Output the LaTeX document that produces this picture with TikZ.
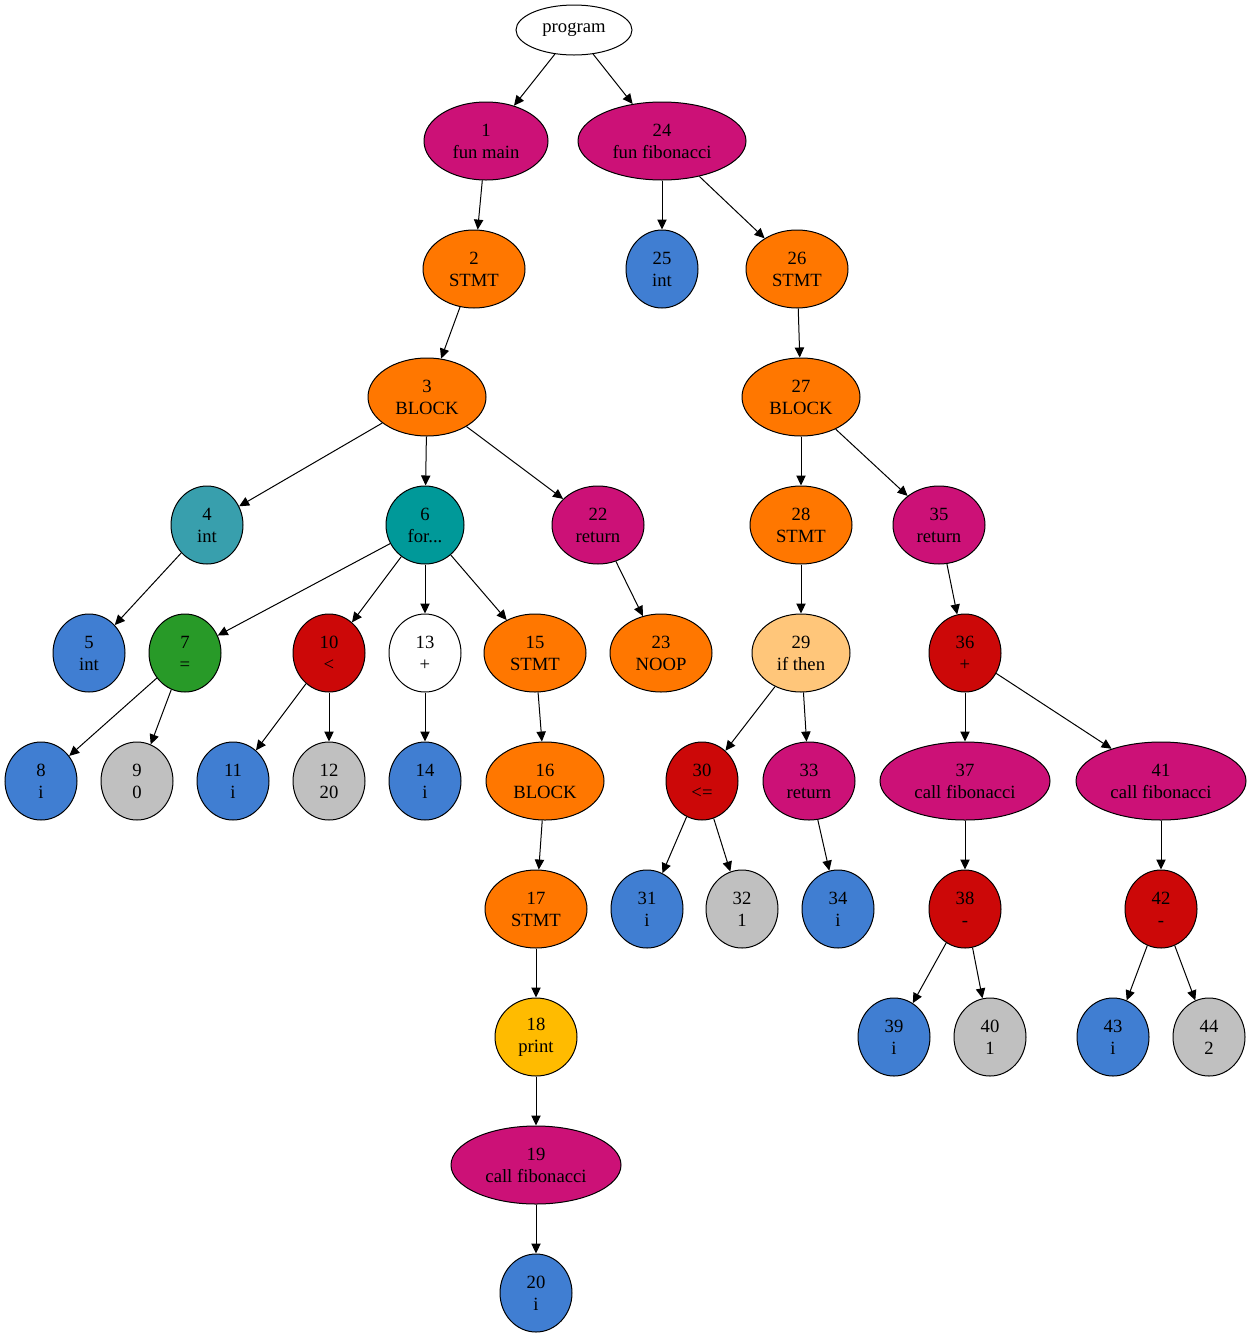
\documentclass[tikz,border=0pt]{standalone}
\usepackage{fontspec}
\setmainfont{Liberation Serif}
\usetikzlibrary{shapes.geometric,arrows.meta}
\definecolor{cMag}{HTML}{CC1177}
\definecolor{cOrange}{HTML}{FF7700}
\definecolor{cBlue}{HTML}{407ED2}
\definecolor{cGray}{HTML}{C0C0C0}
\definecolor{cRed}{HTML}{CC0808}
\definecolor{cGreen}{HTML}{289A28}
\definecolor{cTealA}{HTML}{389FAD}
\definecolor{cTealB}{HTML}{009999}
\definecolor{cPeach}{HTML}{FFC67A}
\definecolor{cYellow}{HTML}{FFBB00}
\tikzset{
  ast/.style={ellipse, draw=black, line width=0.75pt, inner sep=0pt,
    align=center, font=\fontsize{14}{16.5}\selectfont,
    minimum height=58.5pt},
  w36/.style={minimum width=54pt},
  w39/.style={minimum width=58.5pt},
  w41/.style={minimum width=61.5pt},
  w46/.style={minimum width=69pt},
  w49/.style={minimum width=73.5pt},
  w51/.style={minimum width=76.5pt},
  w59/.style={minimum width=88.5pt},
  w62/.style={minimum width=93pt},
  w84/.style={minimum width=126pt},
  w85/.style={minimum width=127.5pt},
  edge/.style={line width=0.75pt, -{Triangle[length=7.5pt,width=7pt]}},
}
\begin{document}
\begin{tikzpicture}[x=0.75pt, y=-0.75pt]
\useasboundingbox (0,0) rectangle (1252,1339);

% root
\node[ast, minimum width=87pt, minimum height=37.5pt, fill=white] (p) at (574,30) {program};

% functions
\node[ast, w62, fill=cMag] (n1) at (486,141) {1\\fun main};
\node[ast, w84, fill=cMag] (n24) at (662,141) {24\\fun fibonacci};

% main body
\node[ast, w51, fill=cOrange] (n2) at (474,269) {2\\STMT};
\node[ast, w59, fill=cOrange] (n3) at (427,397) {3\\BLOCK};
\node[ast, w36, fill=cTealA] (n4) at (207,525) {4\\int};
\node[ast, w39, fill=cTealB] (n6) at (425,525) {6\\for...};
\node[ast, w46, fill=cMag] (n22) at (598,525) {22\\return};
\node[ast, w36, fill=cBlue] (n5) at (89,653) {5\\int};
\node[ast, w36, fill=cGreen] (n7) at (185,653) {7\\=};
\node[ast, w36, fill=cRed] (n10) at (329,653) {10\\<};
\node[ast, w36, fill=white] (n13) at (425,653) {13\\+};
\node[ast, w51, fill=cOrange] (n15) at (535,653) {15\\STMT};
\node[ast, w51, fill=cOrange] (n23) at (661,653) {23\\NOOP};
\node[ast, w36, fill=cBlue] (n8) at (41,781) {8\\i};
\node[ast, w36, fill=cGray] (n9) at (137,781) {9\\0};
\node[ast, w36, fill=cBlue] (n11) at (233,781) {11\\i};
\node[ast, w36, fill=cGray] (n12) at (329,781) {12\\20};
\node[ast, w36, fill=cBlue] (n14) at (425,781) {14\\i};
\node[ast, w59, fill=cOrange] (n16) at (545,781) {16\\BLOCK};
\node[ast, w51, fill=cOrange] (n17) at (536,909) {17\\STMT};
\node[ast, w41, fill=cYellow] (n18) at (536,1037) {18\\print};
\node[ast, w85, fill=cMag] (n19) at (536,1165) {19\\call fibonacci};
\node[ast, w36, fill=cBlue] (n20) at (536,1293) {20\\i};

% fibonacci body
\node[ast, w36, fill=cBlue] (n25) at (662,269) {25\\int};
\node[ast, w51, fill=cOrange] (n26) at (797,269) {26\\STMT};
\node[ast, w59, fill=cOrange] (n27) at (801,397) {27\\BLOCK};
\node[ast, w51, fill=cOrange] (n28) at (801,525) {28\\STMT};
\node[ast, w46, fill=cMag] (n35) at (939,525) {35\\return};
\node[ast, w49, fill=cPeach] (n29) at (801,653) {29\\if then};
\node[ast, w36, fill=cRed] (n36) at (965,653) {36\\+};
\node[ast, w36, fill=cRed] (n30) at (702,781) {30\\<=};
\node[ast, w46, fill=cMag] (n33) at (809,781) {33\\return};
\node[ast, w85, fill=cMag] (n37) at (965,781) {37\\call fibonacci};
\node[ast, w85, fill=cMag] (n41) at (1161,781) {41\\call fibonacci};
\node[ast, w36, fill=cBlue] (n31) at (647,909) {31\\i};
\node[ast, w36, fill=cGray] (n32) at (742,909) {32\\1};
\node[ast, w36, fill=cBlue] (n34) at (838,909) {34\\i};
\node[ast, w36, fill=cRed] (n38) at (965,909) {38\\-};
\node[ast, w36, fill=cRed] (n42) at (1161,909) {42\\-};
\node[ast, w36, fill=cBlue] (n39) at (894,1037) {39\\i};
\node[ast, w36, fill=cGray] (n40) at (990,1037) {40\\1};
\node[ast, w36, fill=cBlue] (n43) at (1113,1037) {43\\i};
\node[ast, w36, fill=cGray] (n44) at (1209,1037) {44\\2};

% edges
\foreach \a/\b in {p/n1, p/n24, n1/n2, n2/n3, n3/n4, n3/n6, n3/n22, n4/n5,
  n6/n7, n6/n10, n6/n13, n6/n15, n7/n8, n7/n9, n10/n11, n10/n12, n13/n14,
  n15/n16, n16/n17, n17/n18, n18/n19, n19/n20, n22/n23,
  n24/n25, n24/n26, n26/n27, n27/n28, n27/n35, n28/n29, n29/n30, n29/n33,
  n30/n31, n30/n32, n33/n34, n35/n36, n36/n37, n36/n41, n37/n38,
  n38/n39, n38/n40, n41/n42, n42/n43, n42/n44}
  \draw[edge] (\a) -- (\b);
\end{tikzpicture}
\end{document}
